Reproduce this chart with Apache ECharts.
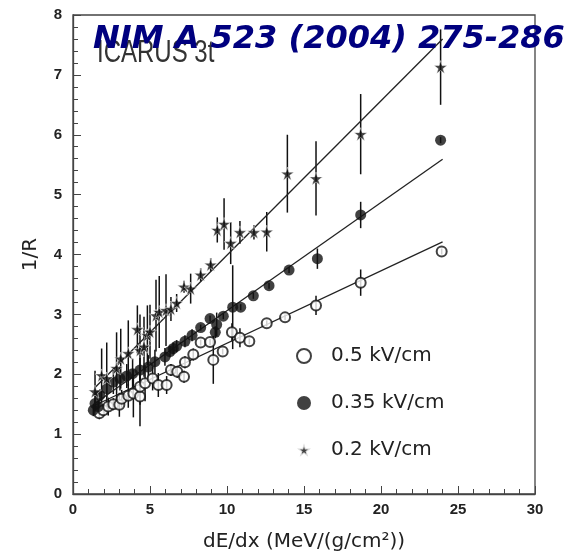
<!DOCTYPE html>
<html>
<head>
<meta charset="utf-8">
<script src="https://cdn.jsdelivr.net/npm/echarts@6/dist/echarts.min.js"></script>
<style>html,body{margin:0;padding:0;background:#fff}#c{width:569px;height:557px}</style>
</head>
<body>
<div id="c"></div>
<script>
// [dE/dx, 1/R, error]
const field05 = [
[1.71,1.35,0.1],[1.97,1.40,0.1],[2.29,1.46,0.15],[2.62,1.50,0.1],[3.01,1.49,0.2],
[3.16,1.59,0.15],[3.59,1.64,0.2],[3.92,1.68,0.4],[4.35,1.63,0.5],[4.35,1.79,0.3],
[4.68,1.85,0.3],[5.17,1.93,0.2],[5.54,1.82,0.2],[6.08,1.82,0.15],[6.36,2.07,0.1],
[6.77,2.04,0.1],[7.21,1.96,0.1],[7.27,2.20,0.1],[7.81,2.33,0.1],[8.29,2.53,0.05],
[8.90,2.54,0.05],[9.11,2.24,0.4],[9.72,2.38,0.05],[10.32,2.70,0.15],[10.84,2.61,0.16],
[11.45,2.55,0.05],[12.58,2.85,0.05],[13.77,2.95,0.05],[15.78,3.15,0.16],[18.68,3.53,0.22],
[23.94,4.05,0.05]
];
const field035 = [
[1.32,1.40,0.1],[1.43,1.51,0.1],[1.64,1.46,0.1],[1.75,1.65,0.1],[2.19,1.76,0.15],
[2.62,1.87,0.2],[3.05,1.93,0.2],[3.49,1.97,0.2],[3.87,2.01,0.25],[4.35,2.07,0.2],
[4.89,2.12,0.2],[5.32,2.21,0.2],[5.97,2.29,0.15],[6.30,2.38,0.1],[6.51,2.43,0.1],
[6.73,2.47,0.1],[7.27,2.55,0.1],[7.73,2.65,0.1],[8.29,2.78,0.05],[8.90,2.93,0.05],
[9.24,2.70,0.1],[9.33,2.83,0.2],[9.76,2.97,0.05],[10.37,3.12,0.7],[10.89,3.12,0.05],
[11.71,3.31,0.05],[12.73,3.48,0.05],[14.03,3.74,0.05],[15.87,3.93,0.17],[18.68,4.66,0.22],
[23.87,5.91,0.05]
];
const field02 = [
[1.43,1.71,0.35],[1.86,1.98,0.45],[2.19,1.93,0.6],[2.83,2.10,0.6],[3.10,2.26,0.5],
[3.59,2.35,0.55],[4.18,2.75,0.4],[4.35,2.40,0.6],[4.61,2.46,0.5],[4.83,2.65,0.5],
[5.00,2.71,0.45],[5.39,2.98,0.6],[5.60,3.04,0.6],[6.04,3.07,0.6],[6.36,3.09,0.2],
[6.73,3.19,0.15],[7.21,3.46,0.1],[7.64,3.43,0.25],[8.29,3.66,0.11],[8.94,3.83,0.11],
[9.37,4.41,0.21],[9.81,4.51,0.43],[10.24,4.19,0.35],[10.84,4.37,0.19],[11.75,4.37,0.12],
[12.58,4.38,0.33],[13.92,5.35,0.65],[15.78,5.27,0.62],[18.68,6.01,0.67],[23.87,7.13,0.63]
];
// linear fits [start, end]
const fit05 = [[1.5,1.49],[24,4.21]];
const fit035 = [[1.3,1.49],[24,5.59]];
const fit02 = [[1.4,1.77],[24,7.60]];

const xTicks = [0,5,10,15,20,25,30];
const yTicks = [0,1,2,3,4,5,6,7,8];
const legendNames = ['0.5 kV/cm','0.35 kV/cm','0.2 kV/cm'];

const STAR = 'path://M50,0 L61,35 L98,35 L68,57 L79,91 L50,70 L21,91 L32,57 L2,35 L39,35 Z';

function errSeries(data){
  return {
    type:'custom', silent:true, z:2,
    data:data,
    renderItem:function(params, api){
      const x = api.value(0), y = api.value(1), e = api.value(2);
      const p1 = api.coord([x, y - e]);
      const p2 = api.coord([x, y + e]);
      return {type:'line', shape:{x1:p1[0],y1:p1[1],x2:p2[0],y2:p2[1]},
        style:{stroke:'#111', lineWidth:1.5}};
    }
  };
}
function lineSeries(data){
  return {type:'line', data:data, symbol:'none', silent:true, z:3,
    lineStyle:{color:'#222', width:1.3}};
}

const chart = echarts.init(document.getElementById('c'));
chart.setOption({
  animation:false,
  backgroundColor:'#fff',
  grid:{left:73, right:34, top:15, bottom:61, show:true, borderColor:'#444', borderWidth:1.3},
  xAxis:{type:'value', min:xTicks[0], max:xTicks[xTicks.length-1], interval:5,
    name:'dE/dx (MeV/(g/cm\u00B2))', nameLocation:'middle', nameGap:38,
    nameTextStyle:{fontFamily:'DejaVu Sans', fontSize:20, color:'#222'},
    axisLine:{show:true, lineStyle:{color:'#444', width:1.3}},
    axisTick:{show:true, inside:true, length:8, lineStyle:{color:'#444'}},
    minorTick:{show:true, splitNumber:5, length:5, lineStyle:{color:'#444'}},
    splitLine:{show:false},
    axisLabel:{fontFamily:'Liberation Sans', fontWeight:'bold', fontSize:15, color:'#222', margin:8}
  },
  yAxis:{type:'value', min:yTicks[0], max:yTicks[yTicks.length-1], interval:1,
    name:'1/R', nameLocation:'middle', nameGap:32, nameRotate:90,
    nameTextStyle:{fontFamily:'DejaVu Sans', fontSize:20, color:'#222'},
    axisLine:{show:true, lineStyle:{color:'#444', width:1.3}},
    axisTick:{show:true, inside:true, length:8, lineStyle:{color:'#444'}},
    minorTick:{show:true, splitNumber:5, length:5, lineStyle:{color:'#444'}},
    splitLine:{show:false},
    axisLabel:{fontFamily:'Liberation Sans', fontWeight:'bold', fontSize:15, color:'#222', margin:11}
  },
  legend:{
    data:legendNames, orient:'vertical', left:291, top:341,
    itemWidth:14, itemHeight:14, itemGap:27,
    textStyle:{fontFamily:'DejaVu Sans', fontSize:20, color:'#222', padding:[0,0,0,15]},
    selectedMode:false
  },
  graphic:[
    {type:'text', left:97, top:37, z:10, scaleX:0.75, style:{text:'ICARUS 3t', font:'32px "Liberation Sans"', fill:'#333'}},
    {type:'text', left:93, top:24, z:11, style:{text:'NIM A 523 (2004) 275-286', font:'italic bold 32px "DejaVu Sans"', fill:'#00007f'}}
  ],
  series:[
    errSeries(field05), errSeries(field035), errSeries(field02),
    lineSeries(fit05), lineSeries(fit035), lineSeries(fit02),
    {name:legendNames[0], type:'scatter', data:field05, symbol:'emptyCircle', symbolSize:10, z:4,
      itemStyle:{color:'#111', borderWidth:1.3}},
    {name:legendNames[1], type:'scatter', data:field035, symbol:'circle', symbolSize:11, z:4,
      itemStyle:{color:'#111'}},
    {name:legendNames[2], type:'scatter', data:field02, symbol:STAR, symbolSize:13, z:4,
      itemStyle:{color:'#111', borderColor:'#fff', borderWidth:0.6}}
  ]
});
</script>
</body>
</html>
